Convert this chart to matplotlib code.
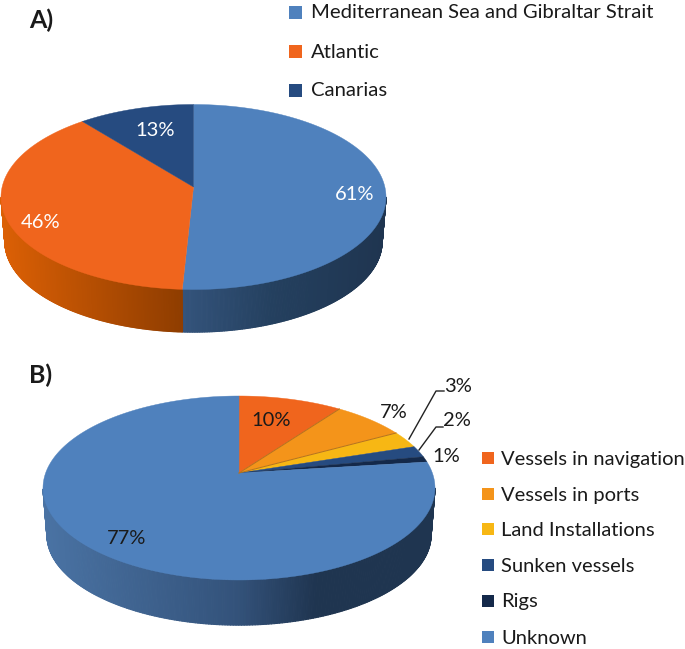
#!/usr/bin/env python3
"""Two tilted 3D-look pie charts (A and B) with side walls and legends."""

import matplotlib

matplotlib.use("Agg")
import matplotlib.pyplot as plt
from matplotlib import colors as mcolors
from matplotlib.collections import PolyCollection
from matplotlib.patches import Rectangle
import numpy as np

plt.rcParams["font.family"] = ["Lato", "DejaVu Sans"]

# panel A
a_labels = ["Mediterranean Sea and Gibraltar Strait", "Atlantic", "Canarias"]
a_values = [61, 46, 13]
a_colors = ["#4f81bd", "#f0651d", "#264b80"]
a_pct_text = ["61%", "46%", "13%"]

# panel B
b_labels = [
    "Vessels in navigation",
    "Vessels in ports",
    "Land Installations",
    "Sunken vessels",
    "Rigs",
    "Unknown",
]
b_values = [10, 7, 3, 2, 1, 77]
b_colors = ["#f0651d", "#f4941a", "#f7b714", "#264b80", "#14294a", "#4f81bd"]
b_pct_text = ["10%", "7%", "3%", "2%", "1%", "77%"]

TEXT = "#1a1a1a"
WALL_BLUE = [(0.0, "#34547c"), (0.45, "#24405f"), (1.0, "#1f3550")]
WALL_ORANGE = [(0.0, "#dc6005"), (1.0, "#8f3d00")]
WALL_BLUE_LONG = [(0.0, "#4a73a4"), (0.5, "#33527a"), (0.7, "#1f3550"), (1.0, "#1f3550")]


def rim_xy(theta, cx, cy, rx, ry, e):
    """Clockwise angle from the top to a point of the ellipse, with the pie
    centre shifted up by e (perspective), radial lines stay straight."""
    u, v = np.sin(theta), np.cos(theta)
    d = 1.0 + e * v
    return cx + rx * u * np.sqrt(1.0 - e * e) / d, cy - ry * (v + e) / d


def wall_color(stops, frac):
    fracs = [s[0] for s in stops]
    rgb = np.array([mcolors.to_rgb(s[1]) for s in stops])
    return [np.interp(frac, fracs, rgb[:, i]) for i in range(3)]


def draw_pie(ax, values, colors, walls, geom, edge_upto=0):
    cx, cy, rx, ry, e, depth = geom
    shrink = 0.98
    edges = np.cumsum([0] + list(values)) / float(sum(values)) * 2.0 * np.pi

    # side wall, only the part of the rim in front of the widest line
    for i, wall in enumerate(walls):
        if wall is None:
            continue
        th = np.linspace(edges[i], edges[i + 1], 400)
        x, y = rim_xy(th, cx, cy, rx, ry, e)
        keep = y >= cy
        th, x, y = th[keep], x[keep], y[keep]
        if th.size < 2:
            continue
        xb, yb = rim_xy(th, cx, cy, rx * shrink, ry * shrink, e)
        yb = yb + depth
        order = np.argsort(x)
        x, y, xb, yb = x[order], y[order], xb[order], yb[order]
        quads = []
        cols = []
        for k in range(x.size - 1):
            quads.append([(x[k], y[k]), (x[k + 1], y[k + 1]), (xb[k + 1], yb[k + 1]), (xb[k], yb[k])])
            cols.append(wall_color(wall, (0.5 * (x[k] + x[k + 1]) - x[0]) / (x[-1] - x[0])))
        ax.add_collection(PolyCollection(quads, facecolors=cols, edgecolors=cols, linewidths=0.8, zorder=2))

    # top face, the apex is where the radial lines meet
    apex_x, apex_y = cx, cy - ry * e
    for i, color in enumerate(colors):
        th = np.linspace(edges[i], edges[i + 1], 200)
        x, y = rim_xy(th, cx, cy, rx, ry, e)
        ax.fill(np.r_[apex_x, x], np.r_[apex_y, y], color=color, lw=0.3, zorder=3)
    for i in range(1, edge_upto):
        x, y = rim_xy(np.array([edges[i]]), cx, cy, rx, ry, e)
        ax.plot([apex_x, x[0]], [apex_y, y[0]], color="#b5711f", lw=0.7, zorder=4)


def draw_legend(ax, labels, colors, x_box, x_text, ys, box, fontsize):
    for label, color, y in zip(labels, colors, ys):
        ax.add_patch(Rectangle((x_box, y - box / 2.0), box, box, facecolor=color, edgecolor="none"))
        ax.text(x_text, y + 1, label, color=TEXT, fontsize=fontsize, ha="left", va="center")


def main():
    fig = plt.figure(figsize=(6.85, 6.49), dpi=100)
    ax = fig.add_axes([0, 0, 1, 1])
    ax.set_xlim(0, 685)
    ax.set_ylim(649, 0)
    ax.axis("off")

    draw_pie(
        ax,
        a_values,
        a_colors,
        [WALL_BLUE, WALL_ORANGE, None],
        (193.5, 197.0, 192.5, 92.5, 0.108, 44.5),
    )
    draw_pie(
        ax,
        b_values,
        b_colors,
        [None, None, None, None, None, WALL_BLUE_LONG],
        (239.0, 488.0, 196.0, 92.0, 0.163, 47.0),
        edge_upto=3,
    )

    for text, (x, y) in zip(a_pct_text, [(355, 194), (41, 222), (155, 130)]):
        ax.text(x, y, text, color="white", fontsize=14.5, ha="center", va="center", zorder=6)
    b_pos = [(271, 420), (394, 412), (458, 386), (457, 421), (446, 457), (127, 539)]
    for text, (x, y) in zip(b_pct_text, b_pos):
        ax.text(x, y, text, color=TEXT, fontsize=14.5, ha="center", va="center", zorder=6)

    ax.plot([409, 436, 444], [439, 391, 391], color="#222222", lw=1.0, zorder=5)
    ax.plot([419, 436, 443], [450, 427, 427], color="#222222", lw=1.0, zorder=5)

    ax.text(29, 20, "A)", color=TEXT, fontsize=18, fontweight="bold", ha="left", va="center")
    ax.text(29, 375, "B)", color=TEXT, fontsize=18, fontweight="bold", ha="left", va="center")

    draw_legend(ax, a_labels, a_colors, 289, 311, [12, 51, 90], 13, 14.6)
    draw_legend(ax, b_labels, b_colors, 482, 501, [458, 494, 529, 565, 601, 637], 12, 14.5)

    fig.savefig("out.png", dpi=100)


if __name__ == "__main__":
    main()
